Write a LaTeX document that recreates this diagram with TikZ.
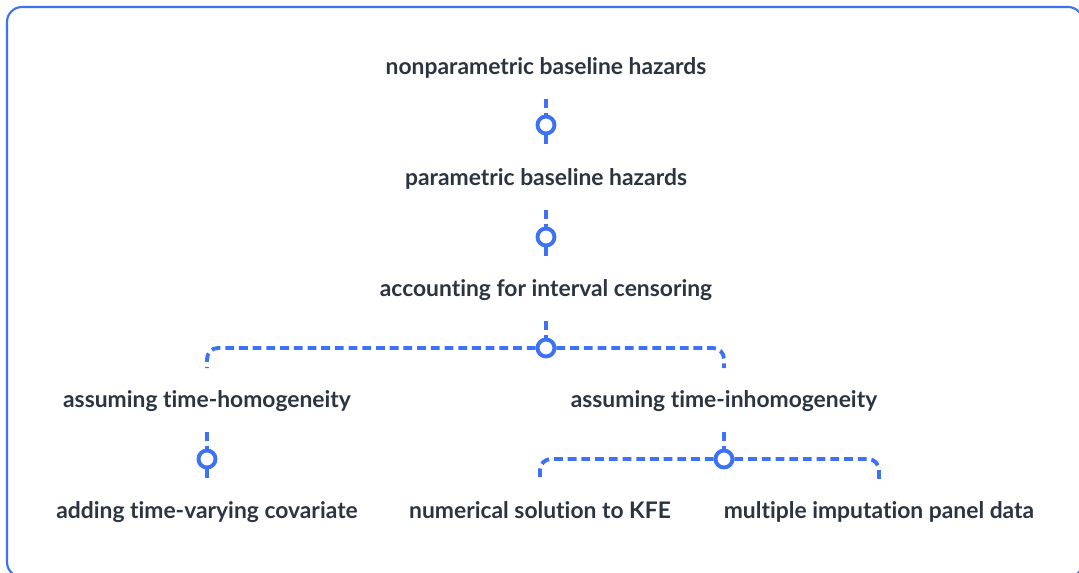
\documentclass[tikz,border=0pt]{standalone}
\usepackage{fontspec}
\setmainfont{Lato}[Ligatures=NoCommon]
\usetikzlibrary{positioning}

\definecolor{linkblue}{HTML}{3D72F4}
\definecolor{labelgray}{HTML}{2C3440}

\begin{document}
\begin{tikzpicture}[x=0.02cm, y=-0.02cm
		,topic/.style={text=labelgray, font=\bfseries\fontsize{13}{15}\selectfont, text height=2.1ex, text depth=0.45ex, minimum height=1.26cm, inner sep=0pt}
		,joint/.style={circle, draw=linkblue, line width=2.2pt, fill=white, minimum size=0.34cm, inner sep=0pt}
		,link/.style={draw=linkblue, line width=2.2pt, dash pattern=on 5pt off 2.8pt}
		,bar/.style={link, rounded corners=0.22cm}
	]
		\useasboundingbox (0,0) rectangle (1079,572);
		\draw [linkblue, line width=1.2pt, rounded corners=0.3cm] (7,7) rectangle (1083,577);

		% main chain
		\node [topic] (nonpar) at (546,67) {nonparametric baseline hazards};
		\node [joint] (j1) at (546,125) {};
		\node [topic] (par) at (546,178) {parametric baseline hazards};
		\node [joint] (j2) at (546,237) {};
		\node [topic] (interval) at (546,289) {accounting for interval censoring};
		\node [joint] (j3) at (546,348) {};

		% two branches
		\node [topic] (homog) at (207,400) {assuming time-homogeneity};
		\node [topic] (inhomog) at (724,400) {assuming time-inhomogeneity};
		\node [joint] (j4) at (207,459) {};
		\node [joint] (j5) at (724,459) {};
		\node [topic] (covar) at (207,511) {adding time-varying covariate};
		\node [topic] (kfe) at (540,511) {numerical solution to KFE};
		\node [topic] (imput) at (879,511) {multiple imputation panel data};

		\draw [link] (nonpar.south) -- (j1.north) (j1.south) -- (par.north);
		\draw [link] (par.south) -- (j2.north) (j2.south) -- (interval.north);
		\draw [link] (interval.south) -- (j3.north);
		\draw [bar] (j3.west) -| (homog.north);
		\draw [bar] (j3.east) -| (inhomog.north);
		\draw [link] (homog.south) -- (j4.north) (j4.south) -- (covar.north);
		\draw [link] (inhomog.south) -- (j5.north);
		\draw [bar] (j5.west) -| (kfe.north);
		\draw [bar] (j5.east) -| (imput.north);
	\end{tikzpicture}
\end{document}
